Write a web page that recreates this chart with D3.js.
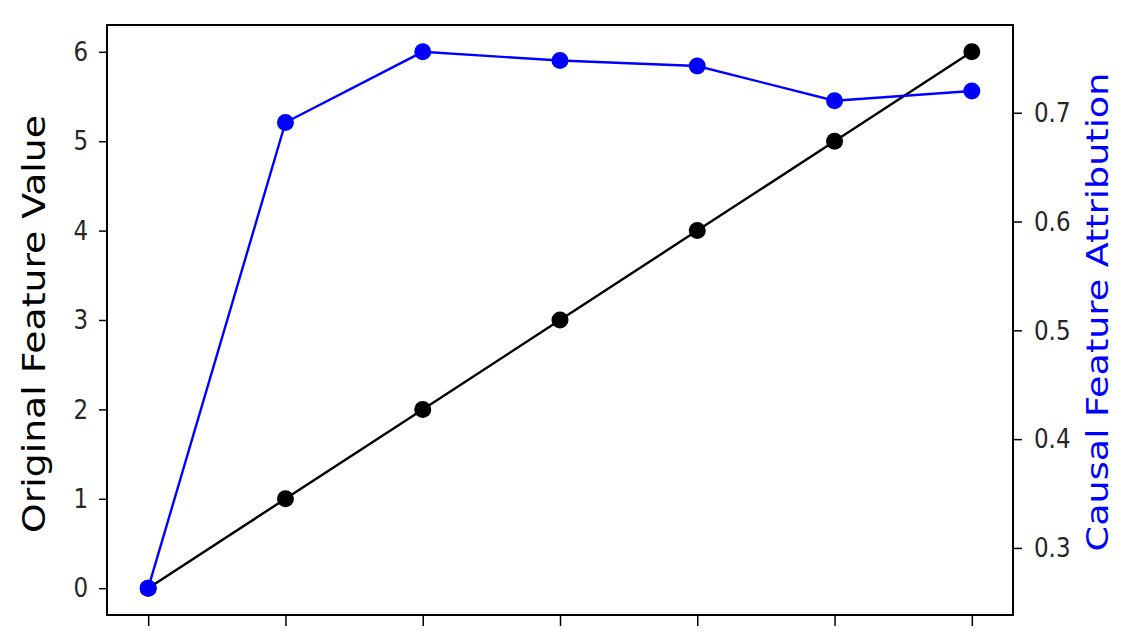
<!DOCTYPE html>
<html>
<head>
<meta charset="utf-8">
<script src="https://cdn.jsdelivr.net/npm/d3@7"></script>
<style>
  body { margin: 0; background: #fff; }
  svg text { font-family: "DejaVu Sans", sans-serif; }
</style>
</head>
<body>
<div id="chart"></div>
<script>
const WIDTH = 1138;
const HEIGHT = 640;

// x positions are just the index of each step
const steps = [0, 1, 2, 3, 4, 5, 6];
const originalValues = [0, 1, 2, 3, 4, 5, 6];
const attributionValues = [0.263, 0.691, 0.756, 0.748, 0.743, 0.711, 0.720];
const leftTicks = [0, 1, 2, 3, 4, 5, 6];
const rightTicks = [0.3, 0.4, 0.5, 0.6, 0.7];

const margin = {top: 25, right: 125, bottom: 25, left: 107};
// the reference picture is a bit taller than wide, so the text is stretched too
const STRETCH = 1.18;

function setup(){
    let svg = d3.select("#chart")
        .append("svg")
        .attr("width",WIDTH)
        .attr("height",HEIGHT);

    let plotW = WIDTH - margin.left - margin.right;
    let plotH = HEIGHT - margin.top - margin.bottom;

    // matplotlib style 5% padding on every side
    let x = d3.scaleLinear().domain([-0.3,6.3]).range([0,plotW]);
    let yLeft = d3.scaleLinear().domain([-0.3,6.3]).range([plotH,0]);
    let aMin = d3.min(attributionValues), aMax = d3.max(attributionValues);
    let pad = (aMax-aMin)*0.05;
    let yRight = d3.scaleLinear().domain([aMin-pad,aMax+pad]).range([plotH,0]);

    let g = svg.append("g").attr("transform",`translate(${margin.left},${margin.top})`);

    // axes
    let xAxis = d3.axisBottom(x).tickValues(steps).tickFormat("").tickSize(11);
    let leftAxis = d3.axisLeft(yLeft).tickValues(leftTicks).tickFormat(d3.format("d")).tickSize(8).tickPadding(11);
    let rightAxis = d3.axisRight(yRight).tickValues(rightTicks).tickFormat(d3.format(".1f")).tickSize(9).tickPadding(12);

    g.append("g").attr("class","axis").attr("transform",`translate(0,${plotH})`).call(xAxis);
    g.append("g").attr("class","axis").call(leftAxis);
    g.append("g").attr("class","axis").attr("transform",`translate(${plotW},0)`).call(rightAxis);

    g.selectAll(".axis path").remove();
    g.selectAll(".axis line").attr("stroke","#000").attr("stroke-width",1.5);
    g.selectAll(".axis text")
        .attr("font-size",23)
        .attr("fill","#262626")
        .attr("transform",`scale(1,${STRETCH})`);

    // frame
    g.append("rect")
        .attr("x",0).attr("y",0)
        .attr("width",plotW).attr("height",plotH)
        .attr("fill","none")
        .attr("stroke","#000")
        .attr("stroke-width",2);

    // black series
    let lineLeft = d3.line().x((d,i)=>x(steps[i])).y(d=>yLeft(d));
    g.append("path")
        .datum(originalValues)
        .attr("d",lineLeft)
        .attr("fill","none")
        .attr("stroke","#000")
        .attr("stroke-width",2.4);
    g.selectAll(".dotLeft")
        .data(originalValues)
        .enter()
        .append("circle")
        .attr("class","dotLeft")
        .attr("cx",(d,i)=>x(steps[i]))
        .attr("cy",d=>yLeft(d))
        .attr("r",8.5)
        .attr("fill","#000");

    // blue series
    let lineRight = d3.line().x((d,i)=>x(steps[i])).y(d=>yRight(d));
    g.append("path")
        .datum(attributionValues)
        .attr("d",lineRight)
        .attr("fill","none")
        .attr("stroke","#0000ff")
        .attr("stroke-width",2.4);
    g.selectAll(".dotRight")
        .data(attributionValues)
        .enter()
        .append("circle")
        .attr("class","dotRight")
        .attr("cx",(d,i)=>x(steps[i]))
        .attr("cy",d=>yRight(d))
        .attr("r",8.5)
        .attr("fill","#0000ff");

    // axis titles
    svg.append("text")
        .attr("transform",`translate(45,324) scale(1,${STRETCH}) rotate(-90)`)
        .attr("text-anchor","middle")
        .attr("font-size",32)
        .attr("fill","#000")
        .text("Original Feature Value");
    svg.append("text")
        .attr("transform",`translate(1108,312) scale(1,${STRETCH}) rotate(-90)`)
        .attr("text-anchor","middle")
        .attr("font-size",31)
        .attr("fill","#0000ff")
        .text("Causal Feature Attribution");
}

window.addEventListener("load",setup);
</script>
</body>
</html>
